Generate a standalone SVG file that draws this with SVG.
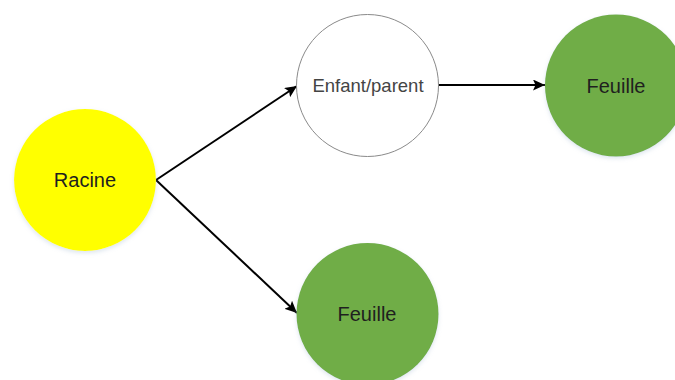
<svg xmlns="http://www.w3.org/2000/svg" width="675" height="380" viewBox="0 0 675 380">
  <defs>
    <marker id="arrow" viewBox="0 0 12 11" refX="12" refY="5.5" markerWidth="12" markerHeight="11" markerUnits="userSpaceOnUse" orient="auto">
      <path d="M0,0 L12,5.5 L0,11 L2.5,5.5 Z" fill="#000"/>
    </marker>
    <filter id="shadow" x="-20%" y="-20%" width="140%" height="140%">
      <feDropShadow dx="0" dy="2" stdDeviation="2" flood-color="#9fb7d0" flood-opacity="0.35"/>
    </filter>
  </defs>
  <style>
    .lbl { font-family: "Liberation Sans", Arial, sans-serif; font-size: 20px; text-anchor: middle; fill: #1f1f1f; }
    .small { font-size: 18.5px; fill: #444; }
    .edge { stroke: #000; stroke-width: 2; fill: none; marker-end: url(#arrow); }
  </style>
  <rect width="675" height="380" fill="#fff"/>
  <g id="connectors">
    <line class="edge" x1="156" y1="180" x2="297" y2="86"/>
    <line class="edge" x1="156" y1="180" x2="297" y2="313"/>
    <line class="edge" x1="438" y1="85" x2="545" y2="85"/>
  </g>
  <g id="racine">
    <circle cx="85" cy="180" r="71" fill="#FFFF00" filter="url(#shadow)"/>
    <text class="lbl" x="85" y="187">Racine</text>
  </g>
  <g id="enfant-parent">
    <circle cx="367.5" cy="85.5" r="71" fill="#fff" stroke="#8a8a8a" stroke-width="1"/>
    <text class="lbl small" x="368" y="91.5">Enfant/parent</text>
  </g>
  <g id="feuille-haut">
    <circle cx="616" cy="85.5" r="71" fill="#70AD47" filter="url(#shadow)"/>
    <text class="lbl" x="616" y="93">Feuille</text>
  </g>
  <g id="feuille-bas">
    <circle cx="367.5" cy="314" r="71" fill="#70AD47" filter="url(#shadow)"/>
    <text class="lbl" x="367" y="321">Feuille</text>
  </g>
</svg>
